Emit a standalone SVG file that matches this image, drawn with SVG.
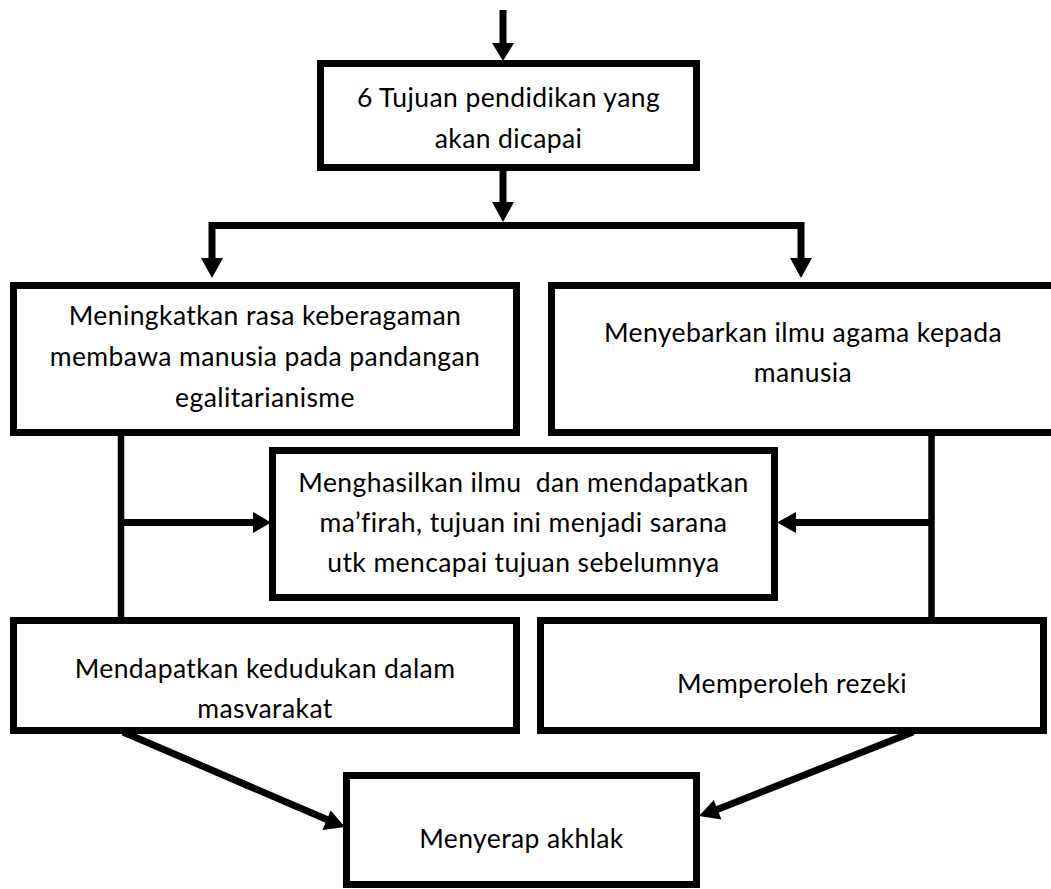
<svg xmlns="http://www.w3.org/2000/svg" width="1051" height="889" viewBox="0 0 1051 889">
<style>
  .box { fill: #ffffff; stroke: #000000; stroke-width: 7; }
  .ln { fill: none; stroke: #000000; stroke-width: 7; stroke-linejoin: miter; stroke-linecap: butt; }
  .vl { fill: none; stroke: #000000; stroke-width: 6.5; }
  .head { fill: #000000; stroke: none; }
  .t { font-family: Lato, "Liberation Sans", sans-serif; font-size: 26.5px; letter-spacing: 0.4px; fill: #000000; text-anchor: middle; white-space: pre; }
</style>
<rect width="1051" height="889" fill="#ffffff"/>
<g id="connectors">
  <line class="ln" x1="503" y1="10" x2="503" y2="44"/>
  <polygon class="head" points="492,43 514,43 503,61"/>
  <line class="ln" x1="503" y1="170" x2="503" y2="203"/>
  <polygon class="head" points="492,202 514,202 503,222"/>
  <path class="ln" d="M212,259 V225.5 H801 V259"/>
  <polygon class="head" points="201,258 223,258 212,278"/>
  <polygon class="head" points="790,258 812,258 801,278"/>
  <line class="vl" x1="121" y1="434" x2="121" y2="619"/>
  <line class="vl" x1="931.5" y1="434" x2="931.5" y2="619"/>
  <line class="ln" x1="121" y1="522.5" x2="254" y2="522.5"/>
  <polygon class="head" points="253,512 253,533 271,522.5"/>
  <line class="ln" x1="931.5" y1="522.5" x2="795" y2="522.5"/>
  <polygon class="head" points="796,512 796,533 777,522.5"/>
  <line class="ln" x1="123" y1="732" x2="328" y2="820"/>
  <polygon class="head" points="322.5,830 330.7,810.6 345,827"/>
  <line class="ln" x1="913" y1="732" x2="716" y2="810"/>
  <polygon class="head" points="713.8,800 721.4,819.6 699,816"/>
</g>
<g id="node-tujuan">
  <rect class="box" x="320.5" y="63.5" width="376" height="104"/>
  <text class="t" x="508.5" y="107">6 Tujuan pendidikan yang</text>
  <text class="t" x="508.5" y="148">akan dicapai</text>
</g>
<g id="node-meningkatkan">
  <rect class="box" x="13.5" y="285.5" width="503" height="147"/>
  <text class="t" x="265" y="325">Meningkatkan rasa keberagaman</text>
  <text class="t" x="265" y="366">membawa manusia pada pandangan</text>
  <text class="t" x="265" y="407">egalitarianisme</text>
</g>
<g id="node-menyebarkan">
  <rect class="box" x="551.5" y="285.5" width="510" height="147"/>
  <text class="t" x="803" y="342">Menyebarkan ilmu agama kepada</text>
  <text class="t" x="803" y="382">manusia</text>
</g>
<g id="node-menghasilkan">
  <rect class="box" x="272.5" y="450.5" width="502" height="147"/>
  <text class="t" x="523.5" y="492">Menghasilkan ilmu  dan mendapatkan</text>
  <text class="t" x="523.5" y="532">ma’firah, tujuan ini menjadi sarana</text>
  <text class="t" x="523.5" y="572">utk mencapai tujuan sebelumnya</text>
</g>
<g id="node-mendapatkan">
  <rect class="box" x="13.5" y="620.5" width="503" height="110"/>
  <text class="t" x="265" y="678">Mendapatkan kedudukan dalam</text>
  <text class="t" x="265" y="718">masvarakat</text>
</g>
<g id="node-memperoleh">
  <rect class="box" x="540.5" y="620.5" width="503" height="110"/>
  <text class="t" x="792" y="693">Memperoleh rezeki</text>
</g>
<g id="node-menyerap">
  <rect class="box" x="346.5" y="775.5" width="350" height="109"/>
  <text class="t" x="521.5" y="848">Menyerap akhlak</text>
</g>
</svg>
